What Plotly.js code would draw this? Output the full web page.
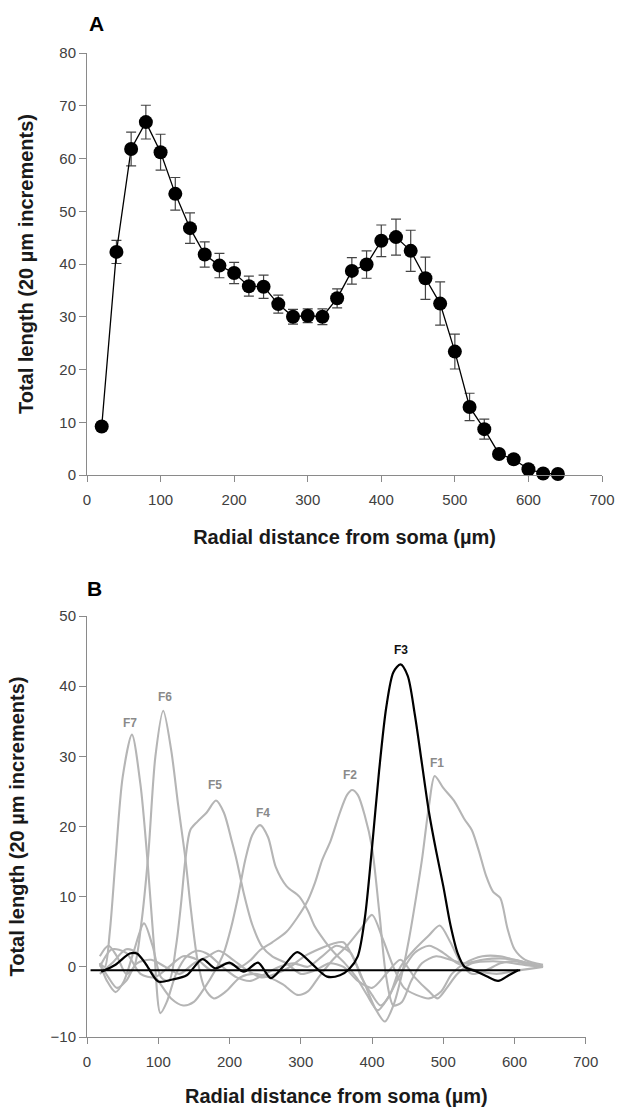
<!DOCTYPE html>
<html>
<head>
<meta charset="utf-8">
<script src="https://cdn.plot.ly/plotly-3.0.1.min.js"></script>
<style>html,body{margin:0;padding:0;background:#fff;}#chart{width:618px;height:1107px;}</style>
</head>
<body>
<div id="chart"></div>
<script>
// ---------- Panel A data ----------
const distA = [20,40,60,80,100,120,140,160,180,200,220,240,260,280,300,320,340,360,380,400,420,440,460,480,500,520,540,560,580,600,620,640];
const lenA  = [9.2,42.3,61.8,66.9,61.2,53.3,46.8,41.8,39.7,38.3,35.8,35.7,32.4,30.0,30.2,30.0,33.5,38.7,39.9,44.4,45.1,42.5,37.3,32.5,23.4,12.9,8.7,4.0,3.0,1.1,0.3,0.2];
const errA  = [0.8,2.2,3.2,3.2,3.4,3.1,2.9,2.4,2.3,2.0,1.9,2.2,1.7,1.4,1.3,1.5,1.8,2.5,2.6,3.0,3.4,3.9,4.0,4.1,3.3,2.6,1.9,0.8,0.8,0.5,0.4,0.3];

// ---------- Panel B data (factor curves) ----------
const f7x = [18,25,32,40,50,63,75,85,94,103,112,125,140,155,170,190,210,230,250,270,290,310,330,350,370,385,400,412,425,440,460,480,495,510,525,540,560,580,600,620,640];
const f7y = [0.5,0,5,15.2,27,33.1,26,15,3,-6.6,-5,-1,1.5,2.3,1.8,0,-1.5,-2,-1,0,0.5,0,1.5,3,2,-1.5,-4,-5.5,-4,0,2.5,4.5,5.9,3.5,0.5,-1,-0.5,0.5,0.8,0.3,0];

const f6x = [18,30,42,55,66,76,86,96,107,118,128,138,146,155,165,178,195,215,235,255,275,295,310,325,345,365,385,400,415,430,445,462,480,497,512,530,555,580,600,620,640];
const f6y = [1.5,3,1.5,-1,0,6,16,30,36.5,31,23,15.5,8,1,-3,-4.5,-3.5,-1.5,-1,-1.5,-2.5,-4,-3.5,-1.5,1,3,5.5,7.4,4,0,-3,-4,-4.5,-3.5,-1,0.5,1.5,1.5,1,0.5,0];

const f5x = [18,28,40,52,65,80,92,104,115,125,132,138,145,155,168,181,192,203,210,220,232,245,260,280,300,320,340,360,380,400,420,440,460,480,492,505,520,540,570,600,620,640];
const f5y = [0.5,-2,-3.6,-2,2,6.2,3,-1.5,-2,3,9,15.2,19.5,20.7,22,23.7,22,18,15.2,10.5,6,3,1.5,0.5,-1,-0.5,0.5,0,-2,-3,-1,1,-1.5,-3.5,-4.5,-3,-1,0.5,0.8,0.5,0.2,0];

const f4x = [18,35,55,70,85,100,118,135,150,165,180,192,202,212,222,232,243,254,265,280,298,310,320,335,348,362,378,393,408,422,440,460,480,500,520,545,575,605,640];
const f4y = [-1,0.5,2.5,2,0,-2,-4.5,-5.5,-5,-3,-0.5,2,5.5,10,15.2,18.8,20.2,18.5,14.2,11.5,10,8,5.7,3.5,1.9,0.5,-1.5,-4,-6.2,-4.5,-1,2,3,2,0.5,-0.5,-1,-0.5,0];

const f2x = [18,35,55,75,95,115,135,155,175,195,215,230,243,260,280,295,310,320,330,342,355,365,372,380,390,400,410,420,430,442,455,470,490,510,530,555,580,600,620,640];
const f2y = [0,2.5,2,-1,-1.5,0,1.5,1,-0.5,0.5,0,1,2.4,3.5,5,7,9.5,12,15.2,18,22,24.5,25.2,24.5,21.5,17,8,-1.5,-5.5,-5,-2,0.5,1.5,1,0.5,1,1.2,1,0.5,0];

const f1x = [18,30,42,55,70,90,110,130,150,170,185,205,225,245,265,285,305,325,345,360,375,390,405,418,430,442,452,462,470,480,488,500,515,530,540,550,560,570,580,590,600,615,640];
const f1y = [0.5,-1.5,-3,-2,0.5,1,0,-1,0.5,1.5,2.3,1,-0.5,-1.5,-1,0,1.5,2.5,3.3,3.5,1,-2.5,-6,-7.8,-5.5,-1,4,10,15.2,23,27.2,25.5,23.7,21,19.5,16.5,13,10.7,9.8,5.5,2.5,1,0.3];

const f3x = [20,40,60,70,82,100,120,140,162,180,200,220,240,258,275,295,315,337,355,368,380,390,400,410,420,430,440,450,460,470,480,490,500,510,520,530,545,560,577,592,605];
const f3y = [-0.7,0.3,1.9,1.9,0.5,-2.1,-1.8,-1.2,1.1,-0.2,0.6,-0.7,0.6,-1.6,0,2.1,0.5,-1.4,-1.2,-0.3,1.5,7,17,28,37,42,43.1,41.5,36,29,22,16.5,11.5,6,2,0,-0.6,-1.3,-2,-1.2,-0.5];

const baseX = [5,608];
const baseY = [-0.5,-0.5];

const labelNames = ['F7','F6','F5','F4','F2','F3','F1'];
const labelX = [61,109,180,247,369,441,491];
const labelY = [34.7,38.4,25.9,21.9,27.4,45.1,29];

// ---------- styles ----------
const FONT = 'Liberation Sans, Arial, Helvetica, sans-serif';
const GREY = '#b5b5b5';
const AXC = '#8a8a8a';
const TXT = '#404040';

const traces = [
  {x: distA, y: lenA, xaxis:'x', yaxis:'y', type:'scatter', mode:'lines+markers', cliponaxis:false,
   line:{color:'#000', width:1.3},
   marker:{color:'#000', size:14},
   error_y:{type:'data', array: errA, visible:true, color:'#444', thickness:1.2, width:5}}
];
const greyCurves = [[f7x,f7y],[f6x,f6y],[f5x,f5y],[f4x,f4y],[f2x,f2y],[f1x,f1y]];
greyCurves.forEach(c => traces.push({x:c[0], y:c[1], xaxis:'x2', yaxis:'y2', type:'scatter', mode:'lines',
  line:{color:GREY, width:2.1, shape:'spline', smoothing:0.8}}));
traces.push({x:baseX, y:baseY, xaxis:'x2', yaxis:'y2', type:'scatter', mode:'lines', line:{color:'#000', width:2}});
traces.push({x:f3x, y:f3y, xaxis:'x2', yaxis:'y2', type:'scatter', mode:'lines', line:{color:'#000', width:2.2, shape:'spline', smoothing:0.8}});

function axisBase(extra){
  return Object.assign({showline:true, linecolor:AXC, linewidth:1, ticks:'outside', tickcolor:AXC, tickwidth:1,
    showgrid:false, zeroline:false, fixedrange:true,
    tickfont:{family:FONT, size:15, color:TXT}}, extra);
}
const titleFont = {family:FONT, size:20, color:'#1a1a1a'};

const annotations = labelNames.map((n,i)=>({
  xref:'x2', yref:'y2', x:labelX[i], y:labelY[i], text:'<b>'+n+'</b>', showarrow:false,
  xanchor:'center', yanchor:'middle', font:{family:FONT, size:12, color: n==='F3' ? '#111' : '#8a8a8a'}
}));
annotations.push({xref:'paper', yref:'paper', x:0.0188, y:1.0302, text:'<b>A</b>', showarrow:false,
  xanchor:'center', yanchor:'middle', font:{family:FONT, size:21, color:'#000'}});
annotations.push({xref:'paper', yref:'paper', x:0.0148, y:0.456, text:'<b>B</b>', showarrow:false,
  xanchor:'center', yanchor:'middle', font:{family:FONT, size:21, color:'#000'}});

const layout = {
  width:618, height:1107,
  margin:{l:87, r:16, t:53, b:70},
  paper_bgcolor:'#fff', plot_bgcolor:'#fff',
  showlegend:false,
  font:{family:FONT},
  xaxis: axisBase({domain:[0,1], anchor:'y', range:[0,700], dtick:100, ticklen:6, ticklabelstandoff:5,
    title:{text:'<b>Radial distance from soma (µm)</b>', font:titleFont, standoff:22}}),
  yaxis: axisBase({domain:[0.5711,1], anchor:'x', range:[0,80], dtick:10, ticklen:7,
    title:{text:'<b>Total length (20 µm increments)</b>', font:titleFont, standoff:20}}),
  xaxis2: axisBase({domain:[0,0.9685], anchor:'y2', range:[0,700], dtick:100, ticklen:6, ticklabelstandoff:5,
    title:{text:'<b>Radial distance from soma (µm)</b>', font:titleFont, standoff:23}}),
  yaxis2: axisBase({domain:[0,0.4278], anchor:'x2', range:[-10,50], dtick:10, ticklen:7,
    title:{text:'<b>Total length (20 µm increments)</b>', font:titleFont, standoff:20}}),
  annotations: annotations
};

Plotly.newPlot('chart', traces, layout, {displayModeBar:false, staticPlot:true});
</script>
</body>
</html>
